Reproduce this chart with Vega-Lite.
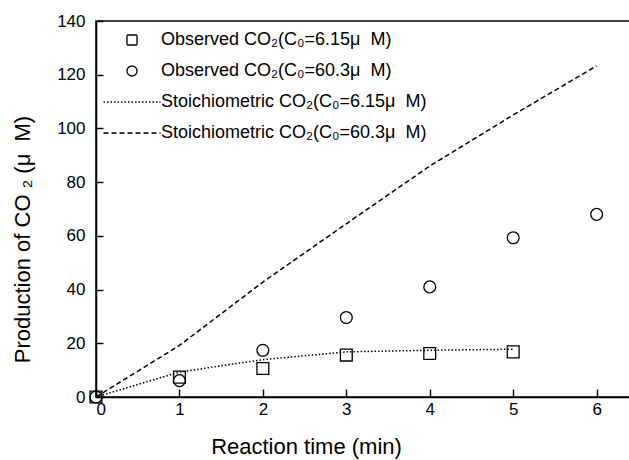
{
  "$schema": "https://vega.github.io/schema/vega-lite/v6.json",
  "width": 534,
  "height": 376,
  "autosize": {"type": "none"},
  "padding": {"left": 96, "top": 21, "right": 0, "bottom": 63},
  "background": "white",
  "config": {
    "font": "Liberation Sans",
    "view": {"stroke": "black", "strokeWidth": 1.5},
    "axis": {
      "grid": false,
      "zindex": 1,
      "domainColor": "black",
      "domainWidth": 1.5,
      "ticks": true,
      "tickColor": "black",
      "tickWidth": 1.4,
      "labelColor": "black",
      "labelFontSize": 17,
      "titleColor": "black",
      "titleFontSize": 22,
      "titleFontWeight": "normal"
    },
    "legend": {
      "orient": "none",
      "legendX": 27,
      "legendY": 10,
      "padding": 0,
      "symbolSize": 100,
      "symbolStrokeColor": "black",
      "symbolFillColor": "transparent",
      "symbolStrokeWidth": 1.3,
      "labelFontSize": 18,
      "labelColor": "black",
      "labelOffset": 20,
      "rowPadding": 13,
      "labelLimit": 400
    }
  },
  "datasets": {
    "observed": [
      {"series": "Observed CO₂(C₀=6.15μ\u00a0\u00a0M)", "time": 0, "co2": 0},
      {"series": "Observed CO₂(C₀=6.15μ\u00a0\u00a0M)", "time": 1, "co2": 7.4},
      {"series": "Observed CO₂(C₀=6.15μ\u00a0\u00a0M)", "time": 2, "co2": 10.6},
      {"series": "Observed CO₂(C₀=6.15μ\u00a0\u00a0M)", "time": 3, "co2": 15.6},
      {"series": "Observed CO₂(C₀=6.15μ\u00a0\u00a0M)", "time": 4, "co2": 16.2},
      {"series": "Observed CO₂(C₀=6.15μ\u00a0\u00a0M)", "time": 5, "co2": 16.8},
      {"series": "Observed CO₂(C₀=60.3μ\u00a0\u00a0M)", "time": 0, "co2": 0},
      {"series": "Observed CO₂(C₀=60.3μ\u00a0\u00a0M)", "time": 1, "co2": 6.1},
      {"series": "Observed CO₂(C₀=60.3μ\u00a0\u00a0M)", "time": 2, "co2": 17.4},
      {"series": "Observed CO₂(C₀=60.3μ\u00a0\u00a0M)", "time": 3, "co2": 29.6},
      {"series": "Observed CO₂(C₀=60.3μ\u00a0\u00a0M)", "time": 4, "co2": 41.0},
      {"series": "Observed CO₂(C₀=60.3μ\u00a0\u00a0M)", "time": 5, "co2": 59.3},
      {"series": "Observed CO₂(C₀=60.3μ\u00a0\u00a0M)", "time": 6, "co2": 68.0}
    ],
    "stoichiometric": [
      {"series": "Stoichiometric CO₂(C₀=6.15μ\u00a0\u00a0M)", "time": 0, "co2": 0},
      {"series": "Stoichiometric CO₂(C₀=6.15μ\u00a0\u00a0M)", "time": 1, "co2": 9.3},
      {"series": "Stoichiometric CO₂(C₀=6.15μ\u00a0\u00a0M)", "time": 2, "co2": 13.9},
      {"series": "Stoichiometric CO₂(C₀=6.15μ\u00a0\u00a0M)", "time": 3, "co2": 16.8},
      {"series": "Stoichiometric CO₂(C₀=6.15μ\u00a0\u00a0M)", "time": 4, "co2": 17.4},
      {"series": "Stoichiometric CO₂(C₀=6.15μ\u00a0\u00a0M)", "time": 5, "co2": 17.8},
      {"series": "Stoichiometric CO₂(C₀=60.3μ\u00a0\u00a0M)", "time": 0, "co2": 0},
      {"series": "Stoichiometric CO₂(C₀=60.3μ\u00a0\u00a0M)", "time": 1, "co2": 19.2},
      {"series": "Stoichiometric CO₂(C₀=60.3μ\u00a0\u00a0M)", "time": 2, "co2": 42.8},
      {"series": "Stoichiometric CO₂(C₀=60.3μ\u00a0\u00a0M)", "time": 3, "co2": 64.5},
      {"series": "Stoichiometric CO₂(C₀=60.3μ\u00a0\u00a0M)", "time": 4, "co2": 86.0},
      {"series": "Stoichiometric CO₂(C₀=60.3μ\u00a0\u00a0M)", "time": 5, "co2": 105.0},
      {"series": "Stoichiometric CO₂(C₀=60.3μ\u00a0\u00a0M)", "time": 6, "co2": 123.3}
    ]
  },
  "encoding": {
    "x": {
      "field": "time",
      "type": "quantitative",
      "scale": {"domain": [0, 6.4], "nice": false, "zero": false},
      "axis": {
        "title": "Reaction time (min)",
        "values": [0, 1, 2, 3, 4, 5, 6],
        "tickSize": -8,
        "labelPadding": 12,
        "titleX": 210,
        "titleY": 56,
        "titleBaseline": "alphabetic",
        "titleAnchor": "middle"
      }
    },
    "y": {
      "field": "co2",
      "type": "quantitative",
      "scale": {"domain": [0, 140], "nice": false},
      "axis": {
        "title": "Production of CO\u00a0₂ (μ\u00a0\u00a0M)",
        "values": [0, 20, 40, 60, 80, 100, 120, 140],
        "tickSize": -7,
        "labelPadding": 18,
        "titleX": -67,
        "titleY": 218,
        "titleAngle": -90,
        "titleBaseline": "alphabetic",
        "titleAlign": "center"
      }
    }
  },
  "layer": [
    {
      "data": {"name": "stoichiometric"},
      "mark": {"type": "line", "color": "black", "strokeWidth": 1.5},
      "encoding": {
        "strokeDash": {
          "field": "series",
          "type": "nominal",
          "scale": {
            "domain": ["Observed CO₂(C₀=6.15μ\u00a0\u00a0M)", "Observed CO₂(C₀=60.3μ\u00a0\u00a0M)", "Stoichiometric CO₂(C₀=6.15μ\u00a0\u00a0M)", "Stoichiometric CO₂(C₀=60.3μ\u00a0\u00a0M)"],
            "range": [[1, 0], [1, 0], [1.5, 2], [5, 3]]
          },
          "legend": {"title": null}
        }
      }
    },
    {
      "data": {"name": "observed"},
      "mark": {"type": "point", "filled": false, "color": "black", "size": 140, "strokeWidth": 1.3, "opacity": 1},
      "encoding": {
        "shape": {
          "field": "series",
          "type": "nominal",
          "scale": {
            "domain": ["Observed CO₂(C₀=6.15μ\u00a0\u00a0M)", "Observed CO₂(C₀=60.3μ\u00a0\u00a0M)", "Stoichiometric CO₂(C₀=6.15μ\u00a0\u00a0M)", "Stoichiometric CO₂(C₀=60.3μ\u00a0\u00a0M)"],
            "range": [
              "M-1,-1H1V1H-1Z",
              "M1,0A1,1,0,1,1,-1,0A1,1,0,1,1,1,0Z",
              "M-5.7,0H5.7",
              "M-5.7,0H5.7"
            ]
          },
          "legend": {"title": null}
        }
      }
    }
  ]
}
